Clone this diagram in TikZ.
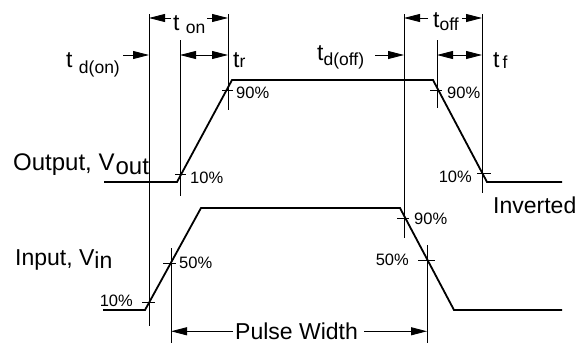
\documentclass[tikz,border=0pt]{standalone}
\usepackage{fontspec}
\setmainfont{Liberation Sans}
\usetikzlibrary{arrows.meta}
\newcommand\lowsub[2][-5pt]{\raisebox{#1}{\fontsize{17.5}{18}\selectfont #2}}
\begin{document}
\begin{tikzpicture}[x=1pt,y=-1pt,
  guide/.style={line width=0.9pt},
  wave/.style={line width=1.8pt, line join=miter},
  tickmark/.style={line width=0.9pt},
  dim/.style={line width=0.9pt,-{Triangle[length=16pt,width=8pt]}},
  ddim/.style={line width=0.9pt,{Triangle[length=16pt,width=8pt]}-{Triangle[length=16pt,width=8pt]}},
  big/.style={font=\fontsize{23}{26}\selectfont, inner sep=0pt, anchor=base west},
  pct/.style={font=\fontsize{16.5}{18}\selectfont, inner sep=0pt},
]
\useasboundingbox (0,0) rectangle (584,343);

% vertical guide lines
\coordinate (g1t) at (149,14);  \coordinate (g1b) at (149,326);
\coordinate (g2t) at (180,40);  \coordinate (g2b) at (180,196);
\coordinate (g3t) at (228,14);  \coordinate (g3b) at (228,110);
\coordinate (g4t) at (404,14);  \coordinate (g4b) at (404,238);
\coordinate (g5t) at (437,40);  \coordinate (g5b) at (437,108);
\coordinate (g6t) at (482,14);  \coordinate (g6b) at (482,193);
\coordinate (g7t) at (171,248); \coordinate (g7b) at (171,343);
\coordinate (g8t) at (427,245); \coordinate (g8b) at (427,343);
\foreach \g in {g1,g2,g3,g4,g5,g6,g7,g8} \draw[guide] (\g t) -- (\g b);

% output waveform
\coordinate (o1) at (104,182); \coordinate (o2) at (177,182);
\coordinate (o3) at (232,80);  \coordinate (o4) at (433,80);
\coordinate (o5) at (487,182); \coordinate (o6) at (562,182);
\draw[wave] (o1) -- (o2) -- (o3) -- (o4) -- (o5) -- (o6);

% input waveform
\coordinate (i1) at (103,310); \coordinate (i2) at (145,310);
\coordinate (i3) at (201,208); \coordinate (i4) at (400,208);
\coordinate (i5) at (454,310); \coordinate (i6) at (562,310);
\draw[wave] (i1) -- (i2) -- (i3) -- (i4) -- (i5) -- (i6);

% tick marks
\draw[tickmark] (175,174) -- (186,174);
\draw[tickmark] (222,90) -- (233,90);
\draw[tickmark] (430,90) -- (442,90);
\draw[tickmark] (477,173) -- (491,173);
\draw[tickmark] (397,218) -- (409,218);
\draw[tickmark] (142,302) -- (155,302);
\draw[tickmark] (163,263) -- (176,263);
\draw[tickmark] (418,260) -- (435,260);

% percent labels
\node[pct,anchor=west] (p1) at (190,178) {10\%};
\node[pct,anchor=west] (p2) at (236,93) {90\%};
\node[pct,anchor=west] (p3) at (447,93) {90\%};
\node[pct,anchor=east] (p4) at (472,177) {10\%};
\node[pct,anchor=west] (p5) at (414,219) {90\%};
\node[pct,anchor=east] (p6) at (133,301) {10\%};
\node[pct,anchor=west] (p7) at (179,263) {50\%};
\node[pct,anchor=east] (p8) at (409,260) {50\%};

% main labels
\node[big,font=\fontsize{24}{26}\selectfont] (outl) at (13,170) {Output, V\kern1pt\raisebox{-4pt}{out}};
\node[big] (inl) at (15,265) {Input, V\raisebox{-3pt}{in}};
\node[big] (inv) at (493,213) {Inverted};

% timing labels
\node[big] (tdon) at (66,67) {t \lowsub[-6pt]{d(on)}};
\node[big] (ton) at (173,30) {t \lowsub[-3pt]{on}};
\node[big] (tr) at (233,67) {t\lowsub[0pt]{r}};
\node[big] (tdoff) at (317,60) {t\lowsub[-5pt]{d(off)}};
\node[big] (toff) at (433,27) {t\lowsub[-3pt]{off}};
\node[big] (tf) at (493,67) {t\kern3pt\lowsub[-1pt]{f}};

% timing arrows
\coordinate (a1) at (123,55); \coordinate (a1e) at (149,55);
\draw[dim] (a1) -- (a1e);
\coordinate (a2) at (171,18); \coordinate (a2e) at (149,18);
\draw[dim] (a2) -- (a2e);
\coordinate (a3) at (207,18); \coordinate (a3e) at (228,18);
\draw[dim] (a3) -- (a3e);
\coordinate (a4) at (180,55); \coordinate (a4e) at (228,55);
\draw[ddim] (a4) -- (a4e);
\coordinate (a5) at (375,55); \coordinate (a5e) at (404,55);
\draw[dim] (a5) -- (a5e);
\coordinate (a6) at (428,18); \coordinate (a6e) at (404,18);
\draw[dim] (a6) -- (a6e);
\coordinate (a7) at (462,18); \coordinate (a7e) at (482,18);
\draw[dim] (a7) -- (a7e);
\coordinate (a8) at (437,55); \coordinate (a8e) at (482,55);
\draw[ddim] (a8) -- (a8e);

% pulse width
\node[big] (pw) at (235,339.5) {Pulse Width};
\coordinate (pwL) at (171,333); \coordinate (pwR) at (427,333);
\draw[dim] ([xshift=-2pt]pw.west) -- (pwL |- pw.west);
\draw[dim] ([xshift=6pt]pw.east) -- (pwR |- pw.east);
\end{tikzpicture}
\end{document}
